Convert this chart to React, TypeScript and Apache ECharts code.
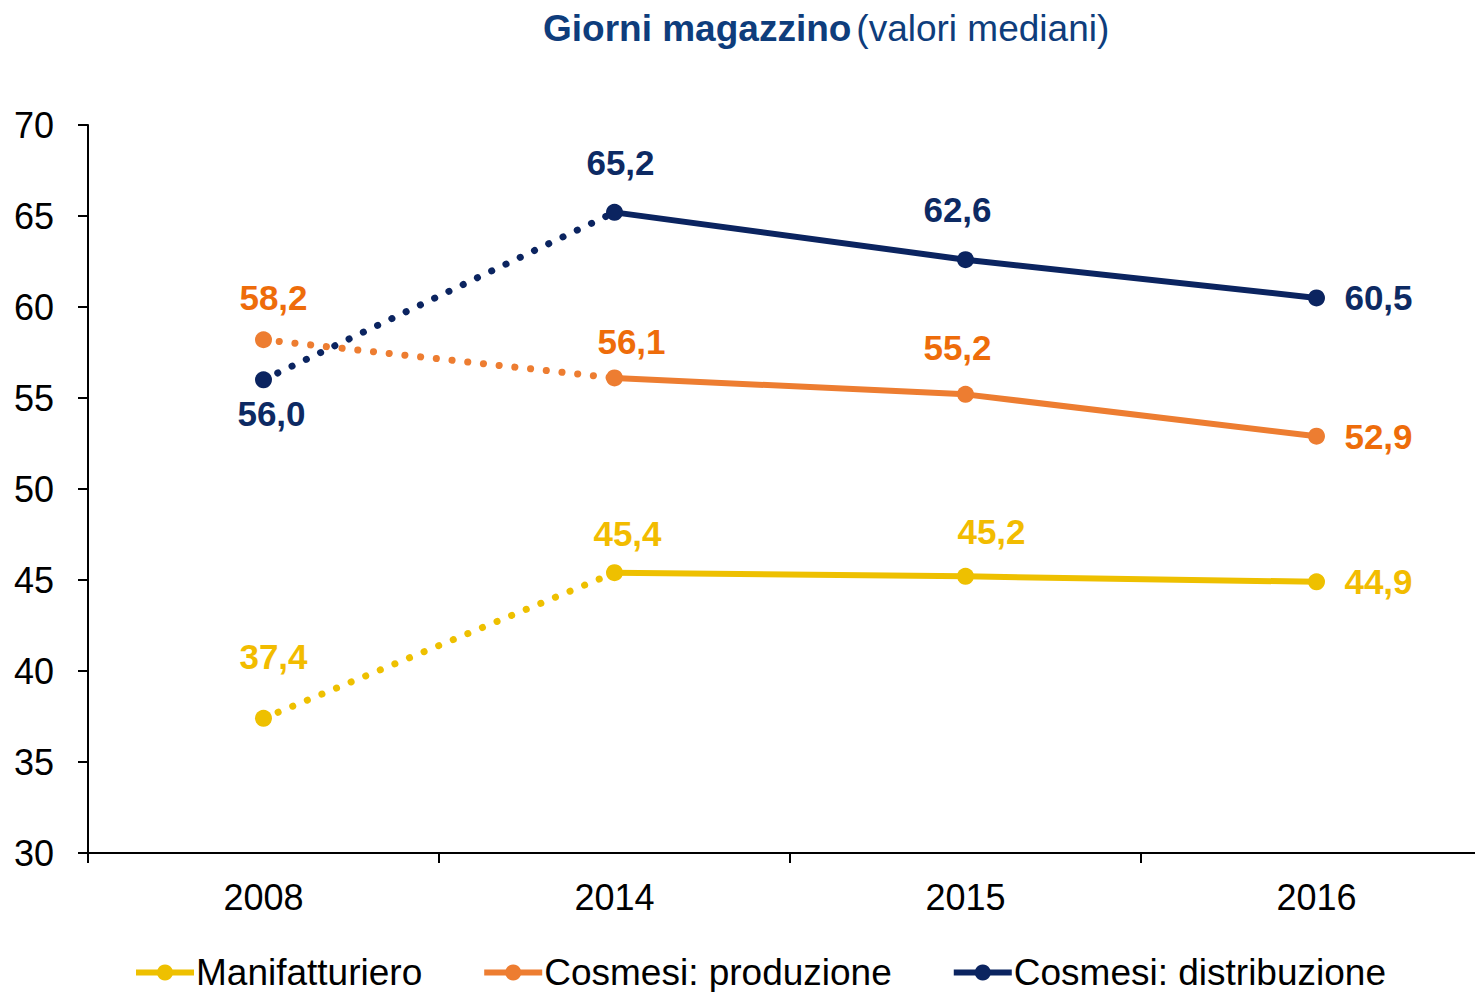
import React, { useEffect, useRef } from "react";
import * as echarts from "echarts";

const categories = ["2008", "2014", "2015", "2016"];
const manifatturiero = [37.4, 45.4, 45.2, 44.9];
const cosmesiProduzione = [58.2, 56.1, 55.2, 52.9];
const cosmesiDistribuzione = [56.0, 65.2, 62.6, 60.5];
const seriesNames = ["Manifatturiero", "Cosmesi: produzione", "Cosmesi: distribuzione"];
const yTicks = { min: 30, max: 70, interval: 5 };

const lineColors = ["#EEC000", "#ED7D31", "#0B2460"];
const labelColors = ["#F2BC00", "#EE6C0A", "#0D2A63"];
// label offsets relative to the point (style only)
const labelOffsets = [
  [[10, -62], [13, -39], [26, -45], [62, 0]],
  [[10, -42], [17, -36], [-8, -47], [62, 0]],
  [[8, 34], [6, -50], [-8, -50], [62, 0]],
];

const FONT = "'Liberation Sans', Arial, sans-serif";

export default function App() {
  const ref = useRef<HTMLDivElement>(null);
  useEffect(() => {
    if (!ref.current) return;
    const chart = echarts.init(ref.current, undefined, { renderer: "svg" });
    const all = [manifatturiero, cosmesiProduzione, cosmesiDistribuzione];
    const series: any[] = [];
    all.forEach((vals, si) => {
      const mk = (i: number) => ({
        value: vals[i],
        label: {
          show: true,
          position: "inside",
          offset: labelOffsets[si][i],
          formatter: (p: any) => Number(p.value).toFixed(1).replace(".", ","),
          color: labelColors[si],
          fontFamily: FONT,
          fontWeight: "bold",
          fontSize: 35,
        },
      });
      series.push({
        name: seriesNames[si] + " (dotted)",
        type: "line",
        data: [mk(0), { value: vals[1], symbolSize: 0.01, label: { show: false } }, "-", "-"],
        symbol: "circle",
        symbolSize: 17,
        showAllSymbol: true,
        itemStyle: { color: lineColors[si] },
        lineStyle: { color: lineColors[si], width: 7, type: [0.1, 15.7], cap: "round" },
        z: 2,
      });
      series.push({
        name: seriesNames[si],
        type: "line",
        data: ["-", mk(1), mk(2), mk(3)],
        symbol: "circle",
        symbolSize: 17,
        showAllSymbol: true,
        itemStyle: { color: lineColors[si] },
        lineStyle: { color: lineColors[si], width: 6 },
        z: 3,
      });
    });
    chart.setOption({
      animation: false,
      title: {
        left: 543,
        top: 10,
        padding: 0,
        text: "{b|Giorni magazzino} {n|(valori mediani)}",
        textStyle: {
          rich: {
            b: { fontFamily: FONT, fontWeight: "bold", fontSize: 37, color: "#0E3D7C" },
            n: { fontFamily: FONT, fontWeight: "normal", fontSize: 37, color: "#0E3D7C" },
          },
        },
      },
      legend: {
        data: seriesNames,
        left: 133,
        top: 954,
        padding: 0,
        itemWidth: 58,
        itemHeight: 20,
        itemGap: 59,
        lineStyle: { width: 6 },
        textStyle: { fontFamily: FONT, fontSize: 37, color: "#000", padding: [0, 0, 0, -3], lineHeight: 36 },
      },
      grid: { left: 88, right: 0, top: 125, bottom: 139, containLabel: false },
      xAxis: {
        type: "category",
        data: categories,
        boundaryGap: true,
        axisLine: { lineStyle: { color: "#000", width: 2 } },
        axisTick: { show: true, length: 10, inside: false, lineStyle: { color: "#000", width: 2 } },
        axisLabel: { fontFamily: FONT, fontSize: 36, color: "#000", margin: 26 },
        splitLine: { show: false },
      },
      yAxis: {
        type: "value",
        min: yTicks.min,
        max: yTicks.max,
        interval: yTicks.interval,
        axisLine: { show: true, lineStyle: { color: "#000", width: 2 } },
        axisTick: { show: true, length: 10, lineStyle: { color: "#000", width: 2 } },
        axisLabel: { fontFamily: FONT, fontSize: 36, color: "#000", margin: 34 },
        splitLine: { show: false },
      },
      series,
    });
    return () => chart.dispose();
  }, []);
  return (
    <div style={{ position: "fixed", left: 0, top: 0, width: "1475px", height: "992px", overflow: "hidden", background: "#fff" }}>
      <div ref={ref} style={{ width: "1492px", height: "992px" }} />
    </div>
  );
}
